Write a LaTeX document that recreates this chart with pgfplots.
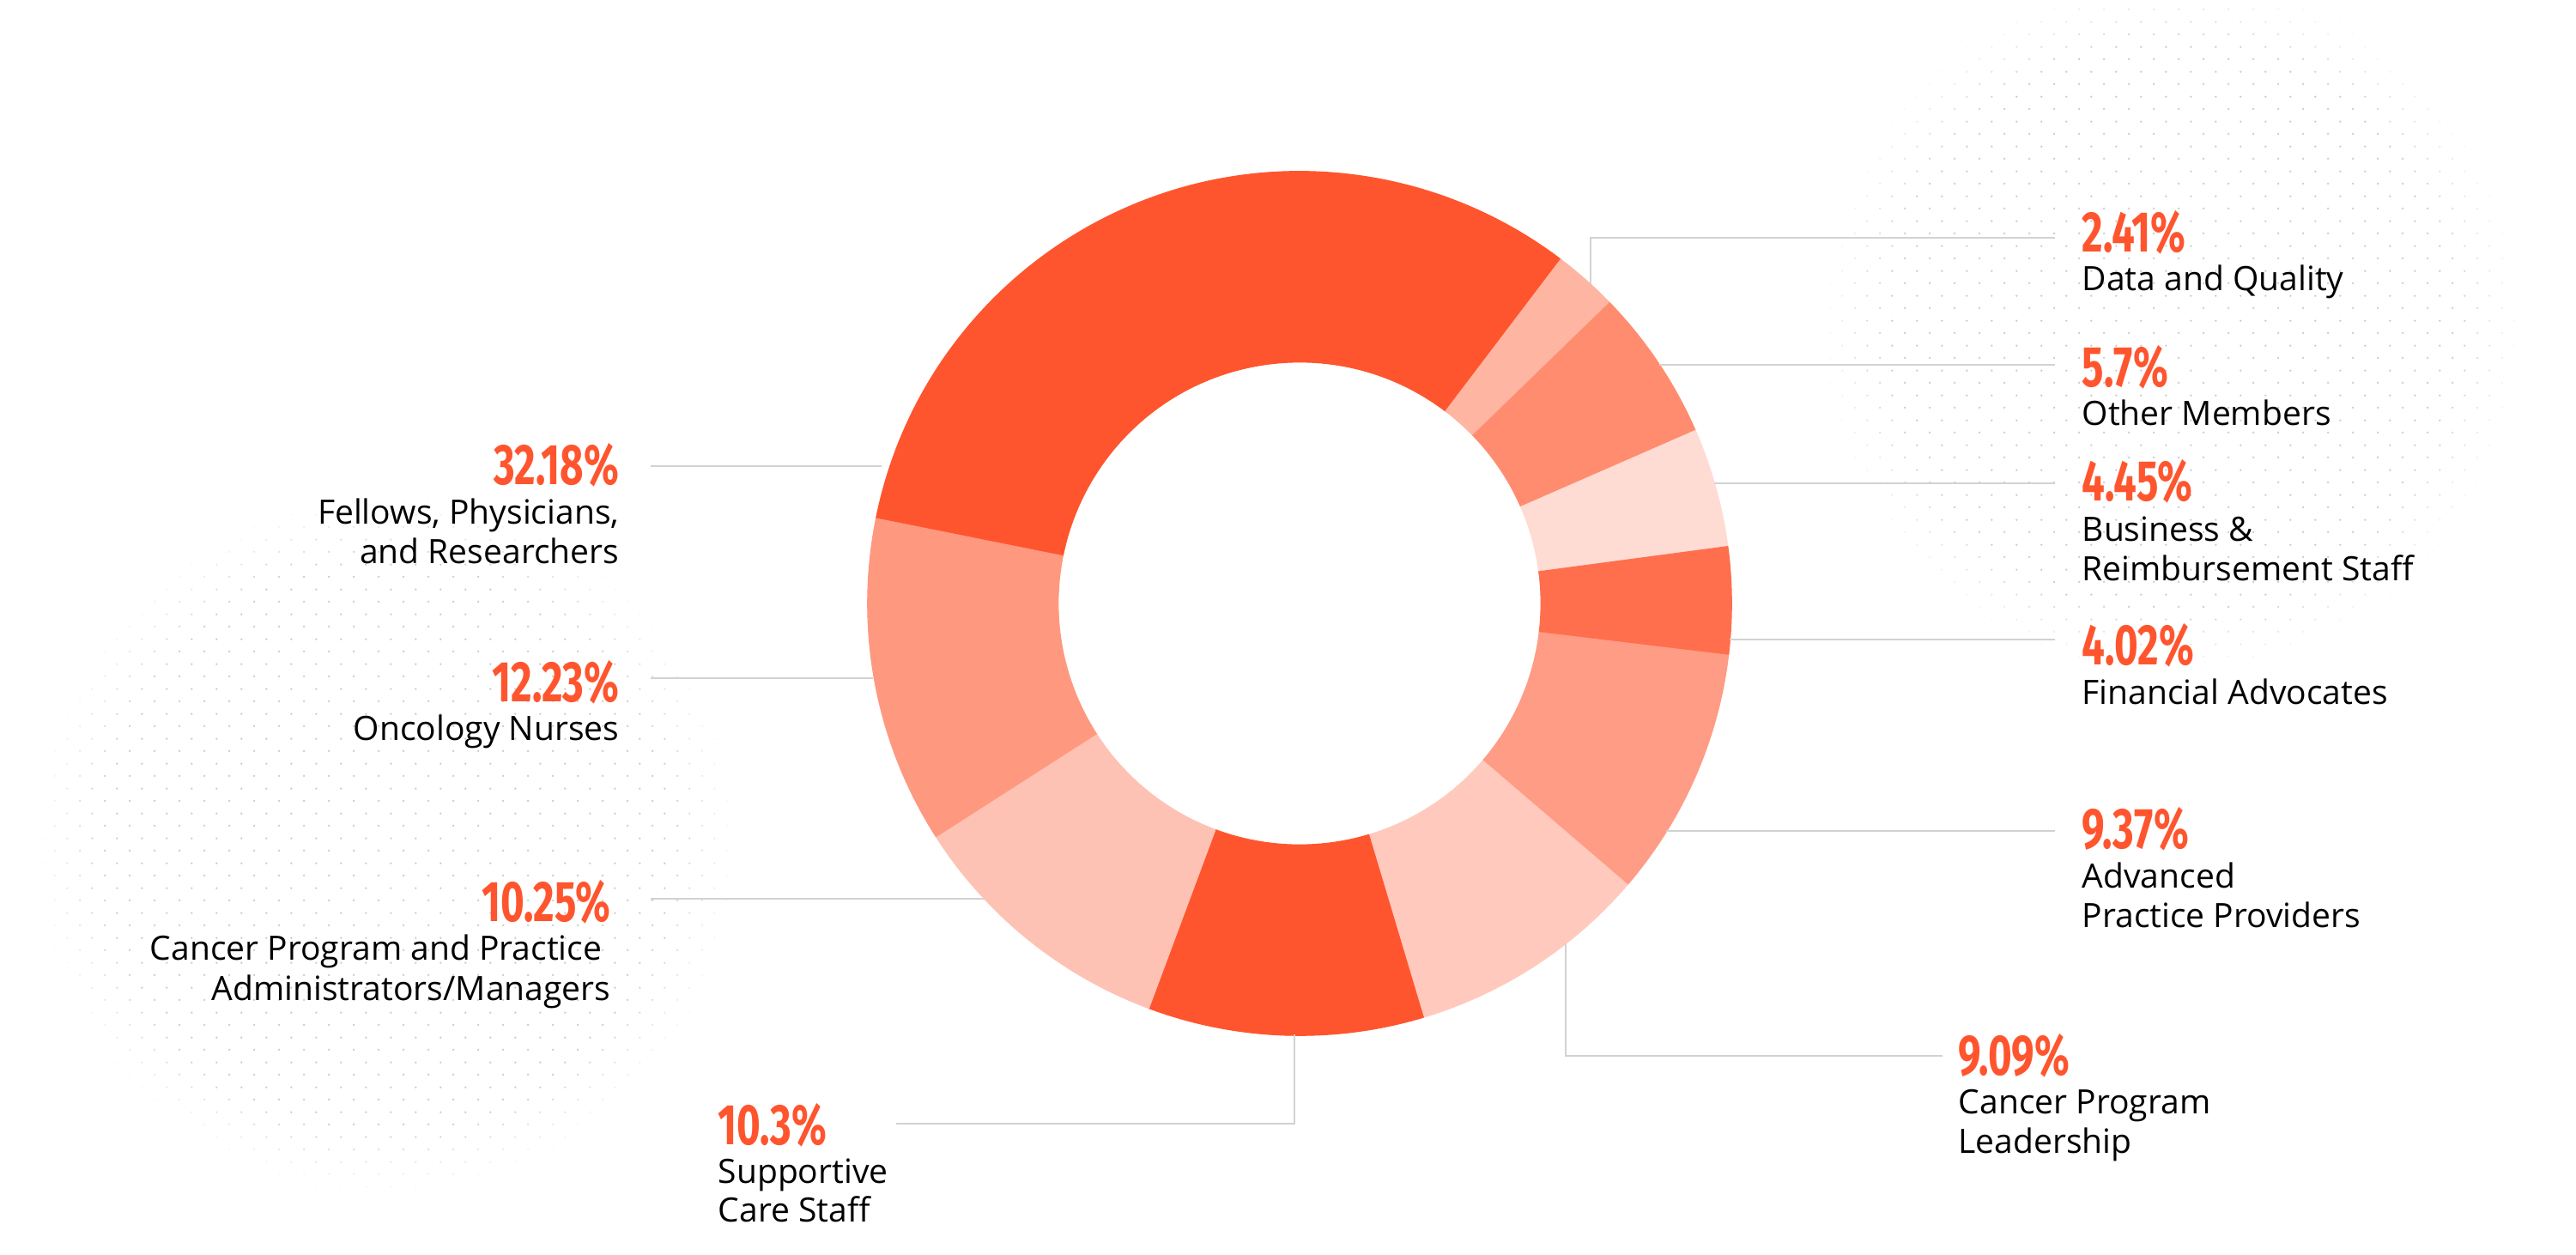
\documentclass[border=0pt]{standalone}
\usepackage{fontspec}
\usepackage{pgfplots}
\usepackage{pgfplotstable}
\pgfplotsset{compat=1.18}
\usetikzlibrary{patterns.meta,fadings}

\setmainfont{Open Sans}
\newfontfamily\pctfont{Fira Sans}[FakeStretch=0.71]

\definecolor{fellows}{HTML}{FF552E}
\definecolor{dataq}{HTML}{FEB5A2}
\definecolor{other}{HTML}{FF8C6F}
\definecolor{business}{HTML}{FEDBD3}
\definecolor{financial}{HTML}{FF6F4D}
\definecolor{advanced}{HTML}{FF9C85}
\definecolor{leader}{HTML}{FFCABD}
\definecolor{supportive}{HTML}{FF552E}
\definecolor{admin}{HTML}{FEC2B4}
\definecolor{nurses}{HTML}{FE9980}
\definecolor{pcttxt}{HTML}{FF552E}
\definecolor{leadgrey}{HTML}{D2D2D2}
\definecolor{dotgrey}{HTML}{CDCDCD}

% shares, clockwise from the left edge of the big slice
\pgfplotstableread{
pct    col
32.18  fellows
2.41   dataq
5.7    other
4.45   business
4.02   financial
9.37   advanced
9.09   leader
10.3   supportive
10.25  admin
12.23  nurses
}\slices

\tikzdeclarepattern{
  name=bgdots,
  type=uncolored,
  bounding box={(0,0) and (0.287cm,0.287cm)},
  tile size={(0.287cm,0.287cm)},
  code={
    \pgfpathcircle{\pgfpoint{0.07175cm}{0.07175cm}}{0.013cm}
    \pgfpathcircle{\pgfpoint{0.21525cm}{0.21525cm}}{0.013cm}
    \pgfusepath{fill}
  }
}

\tikzset{
  pct/.style={inner sep=0pt, text=pcttxt, font=\pctfont\bfseries\fontsize{19}{20}\selectfont},
  lbl/.style={inner sep=0pt, text=black, font=\fontsize{11.1}{13}\selectfont},
}
\pgfplotsset{leadline/.style={draw=leadgrey, line width=0.8pt, mark=none, forget plot}}

\begin{document}
\begin{tikzpicture}
\begin{axis}[
    x=0.01cm, y=0.01cm,
    xmin=0, xmax=3001, ymin=0, ymax=1461,
    y dir=reverse,
    enlargelimits=false,
    hide axis,
    clip=false,
]
% fixed frame of the picture
\path (axis cs:0,0) rectangle (axis cs:3001,1461);

% dotted background discs
\fill[overlay, pattern=bgdots, pattern color=dotgrey, path fading=circle with fuzzy edge 20 percent] (axis cs:2530,380) circle[radius=4.1cm];
\fill[overlay, pattern=bgdots, pattern color=dotgrey, path fading=circle with fuzzy edge 20 percent] (axis cs:450,985) circle[radius=4.1cm];

% donut slices
\def\cx{1514}\def\cy{703}
\pgfmathsetmacro\cum{-78.65}
\pgfplotsforeachungrouped \i in {0,...,9}{
  \pgfplotstablegetelem{\i}{pct}\of\slices \let\p\pgfplotsretval
  \pgfplotstablegetelem{\i}{col}\of\slices \let\c\pgfplotsretval
  \pgfmathsetmacro\aone{90-\cum}
  \pgfmathsetmacro\cum{\cum+3.6*\p}
  \pgfmathsetmacro\atwo{90-\cum}
  \edef\temp{\noexpand\filldraw[fill=\c, draw=\c, line width=0.3pt, line join=round]
    (axis cs:\cx,\cy) ++(\aone:5.03cm)
    arc[start angle=\aone, end angle=\atwo, radius=5.03cm]
    -- ++(\atwo:-2.22cm)
    arc[start angle=\atwo, end angle=\aone, radius=2.81cm] -- cycle;}
  \temp
}

% leader lines
\addplot[leadline] coordinates {(1853,331) (1853,277) (2394,277)};
\addplot[leadline] coordinates {(1933,425) (2394,425)};
\addplot[leadline] coordinates {(1997,563) (2394,563)};
\addplot[leadline] coordinates {(2015,745) (2394,745)};
\addplot[leadline] coordinates {(1941,968) (2394,968)};
\addplot[leadline] coordinates {(1824,1099) (1824,1230) (2263,1230)};
\addplot[leadline] coordinates {(1508,1205) (1508,1309) (1044,1309)};
\addplot[leadline] coordinates {(1147,1047) (758,1047)};
\addplot[leadline] coordinates {(1017,790) (758,790)};
\addplot[leadline] coordinates {(1027,543) (758,543)};

% right labels
\node[pct, anchor=base west] at (axis cs:2425,293) {2.41\%};
\node[lbl, anchor=base west] at (axis cs:2425,338) {Data and Quality};
\node[pct, anchor=base west] at (axis cs:2425,450) {5.7\%};
\node[lbl, anchor=base west] at (axis cs:2425,495) {Other Members};
\node[pct, anchor=base west] at (axis cs:2425,583) {4.45\%};
\node[lbl, anchor=base west] at (axis cs:2425,630) {Business \&};
\node[lbl, anchor=base west] at (axis cs:2425,676) {Reimbursement Staff};
\node[pct, anchor=base west] at (axis cs:2425,774) {4.02\%};
\node[lbl, anchor=base west] at (axis cs:2425,820) {Financial Advocates};
\node[pct, anchor=base west] at (axis cs:2425,988) {9.37\%};
\node[lbl, anchor=base west] at (axis cs:2425,1034) {Advanced};
\node[lbl, anchor=base west] at (axis cs:2425,1080) {Practice Providers};
\node[pct, anchor=base west] at (axis cs:2281,1252) {9.09\%};
\node[lbl, anchor=base west] at (axis cs:2281,1297) {Cancer Program};
\node[lbl, anchor=base west] at (axis cs:2281,1343) {Leadership};

% bottom label
\node[pct, anchor=base west] at (axis cs:836,1333) {10.3\%};
\node[lbl, anchor=base west] at (axis cs:836,1378) {Supportive};
\node[lbl, anchor=base west] at (axis cs:836,1423) {Care Staff};

% left labels
\node[pct, anchor=base east] at (axis cs:722,564) {32.18\%};
\node[lbl, anchor=base east] at (axis cs:722,610) {Fellows, Physicians,};
\node[lbl, anchor=base east] at (axis cs:722,656) {and Researchers};
\node[pct, anchor=base east] at (axis cs:722,817) {12.23\%};
\node[lbl, anchor=base east] at (axis cs:722,862) {Oncology Nurses};
\node[pct, anchor=base east] at (axis cs:712,1073) {10.25\%};
\node[lbl, anchor=base east] at (axis cs:702,1118) {Cancer Program and Practice};
\node[lbl, anchor=base east] at (axis cs:712,1165) {Administrators/Managers};
\end{axis}
\end{tikzpicture}
\end{document}
